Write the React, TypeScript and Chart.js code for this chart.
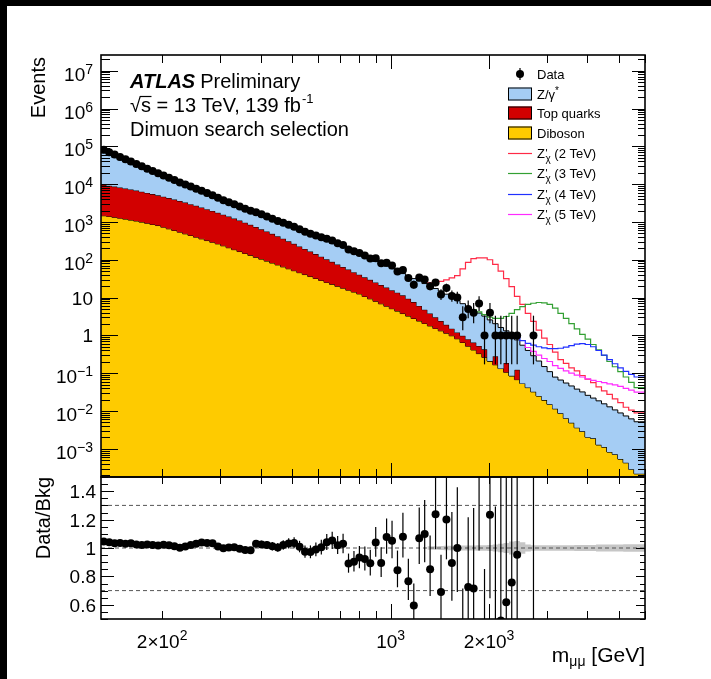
import { useEffect, useRef } from "react";
import { Chart, registerables } from "chart.js";

Chart.register(...registerables);

const W = 711;
const H = 679;
const FONT = '"Liberation Sans", Arial, Helvetica, sans-serif';

// ---------------- axes / binning ----------------
const M_MIN = 130;
const M_MAX = 6000;
const N_BINS = 100;
const Y_MIN = 1.8e-4;
const Y_MAX = 2.6e7;
const R_MIN = 0.5;
const R_MAX = 1.5;

const X_TICK_VALUES = [200, 300, 400, 500, 600, 700, 800, 900, 1000, 2000, 3000, 4000, 5000, 6000];
const X_LONG_TICKS = [1000, 2000];
const X_TICK_LABELS = [
  { value: 200, base: "2\u00d710", exp: "2" },
  { value: 1000, base: "10", exp: "3" },
  { value: 2000, base: "2\u00d710", exp: "3" },
];
const Y_TICK_LABELS = [
  { value: 1e7, base: "10", exp: "7" },
  { value: 1e6, base: "10", exp: "6" },
  { value: 1e5, base: "10", exp: "5" },
  { value: 1e4, base: "10", exp: "4" },
  { value: 1e3, base: "10", exp: "3" },
  { value: 1e2, base: "10", exp: "2" },
  { value: 10, base: "10", exp: "" },
  { value: 1, base: "1", exp: "" },
  { value: 0.1, base: "10", exp: "\u22121" },
  { value: 0.01, base: "10", exp: "\u22122" },
  { value: 0.001, base: "10", exp: "\u22123" },
];
const R_TICK_LABELS = [
  { value: 0.6, text: "0.6" },
  { value: 0.8, text: "0.8" },
  { value: 1.0, text: "1" },
  { value: 1.2, text: "1.2" },
  { value: 1.4, text: "1.4" },
];
const R_REF_LINES = [0.7, 1.0, 1.3];

// ---------------- data (per bin, 100 log-uniform bins 130-6000 GeV) ----------------
// stacked tops: diboson, diboson+top quarks, diboson+top+Z/gamma*
const STACK_DIBOSON = [
  1510, 1460, 1400, 1330, 1260, 1190, 1120, 1060, 991, 925,
  859, 804, 728, 658, 594, 537, 485, 439, 396, 357,
  322, 291, 263, 234, 208, 185, 165, 147, 131, 116,
  104, 92.3, 82.0, 73.1, 64.9, 57.8, 51.4, 45.6, 40.6, 36.0,
  32.0, 28.4, 25.2, 22.4, 19.9, 17.7, 15.7, 14.0, 12.5, 10.7,
  9.27, 7.98, 6.85, 5.92, 5.08, 4.39, 3.78, 3.24, 2.80, 2.40,
  2.07, 1.78, 1.53, 1.32, 1.14, 0.977, 0.815, 0.649, 0.518, 0.412,
  0.330, 0.263, 0.209, 0.167, 0.133, 0.106, 0.0851, 0.0676, 0.0537, 0.0417,
  0.0324, 0.0251, 0.0195, 0.0151, 0.0115, 0.00871, 0.00646, 0.0049, 0.00363, 0.0029,
  0.00204, 0.0019, 0.00128, 0.00112, 0.00083, 0.00072, 0.00054, 0.00043, 0.00029, 0.00022,
];
const STACK_DIBOSON_TOP = [
  10000, 9550, 9080, 8610, 8150, 7670, 7210, 6760, 6310, 5870,
  5450, 5050, 4660, 4280, 3920, 3580, 3270, 2960, 2690, 2420,
  2180, 1960, 1750, 1560, 1390, 1230, 1090, 957, 841, 735,
  641, 558, 484, 419, 361, 308, 264, 225, 193, 165,
  141, 121, 103, 88.1, 75.3, 64.4, 55.1, 47.1, 40.3, 34.4,
  29.4, 25.2, 21.5, 18.4, 15.7, 13.5, 11.5, 9.33, 7.59, 6.03,
  4.79, 3.80, 3.02, 2.40, 1.91, 1.51, 1.20, 0.977, 0.794, 0.646,
  0.525, 0.427, 0.209, 0.282, 0.133, 0.186, 0.0851, 0.123, 0.0537, 0.0417,
  0.0324, 0.0251, 0.0195, 0.0151, 0.0115, 0.00871, 0.00646, 0.0049, 0.00363, 0.0029,
  0.00204, 0.0019, 0.00128, 0.00112, 0.00083, 0.00072, 0.00054, 0.00043, 0.00029, 0.00022,
];
const STACK_TOTAL = [
  77600, 67300, 58500, 50800, 44100, 38400, 33300, 28900, 25100, 21800,
  19000, 16600, 14500, 12700, 11100, 9660, 8450, 7380, 6440, 5640,
  4920, 4310, 3770, 3320, 2920, 2570, 2270, 2000, 1760, 1550,
  1360, 1200, 1060, 931, 818, 724, 640, 565, 500, 442,
  391, 346, 305, 270, 238, 211, 187, 163, 141, 121,
  105, 90.6, 78.0, 67.5, 58.1, 50.0, 43.1, 37.0, 31.8, 27.3,
  23.5, 20.2, 17.4, 15.0, 12.3, 10.0, 8.3, 6.9, 5.6, 4.5,
  3.9, 3.24, 2.57, 2.04, 1.62, 1.32, 1.05, 0.76, 0.55, 0.40,
  0.29, 0.21, 0.15, 0.11, 0.079, 0.066, 0.055, 0.046, 0.038, 0.032,
  0.026, 0.022, 0.0186, 0.0155, 0.0129, 0.0107, 0.0089, 0.0074, 0.0062, 0.0052,
];
const DATA = [
  81100, 70000, 60490, 52580, 45420, 39710, 34130, 29510, 25700, 22260,
  19340, 16970, 14790, 12850, 11120, 9757, 8627, 7601, 6685, 5837,
  5087, 4353, 3762, 3330, 2935, 2557, 2238, 1968, 1813, 1589,
  1389, 1214, 1064, 950, 844, 750, 646, 550, 486, 437,
  393, 360, 321, 275, 245, 188, 169, 152, 130, 108,
  109, 81, 84, 71, 49, 54, 33, 22, 34, 30,
  20, 25, 12, 18, 11, 10, 3, 5, 4, 7,
  1, 4, 1, 1, 1, 1, 1, 0, 0, 1,
  0, 0, 0, 0, 0, 0, 0, 0, 0, 0,
  0, 0, 0, 0, 0, 0, 0, 0, 0, 0,
];
// signal + background lines, starting at the given bin
const ZPRIME_2TEV_FROM = 60;
const ZPRIME_2TEV = [
  24.0, 24.5, 25.1, 26.9, 29.5, 33.1, 38.0, 57.5, 85.1, 107,
  112, 112, 100, 75.9, 50.1, 31.6, 19.5, 10.7, 6.61, 3.80,
  2.34, 1.38, 0.851, 0.575, 0.363, 0.229, 0.182, 0.138, 0.115, 0.0871,
  0.0692, 0.0562, 0.0437, 0.0339, 0.0275, 0.0209, 0.0166, 0.0126, 0.0105, 0.0089,
];
const ZPRIME_3TEV_FROM = 69;
const ZPRIME_3TEV = [
  5.01, 4.17, 3.55, 3.02, 2.82, 2.82, 3.16, 3.80, 4.79, 5.75,
  6.61, 7.08, 7.41, 7.24, 6.61, 5.25, 3.80, 2.82, 2.04, 1.48,
  1.07, 0.794, 0.575, 0.417, 0.295, 0.204, 0.148, 0.110, 0.0794, 0.0575,
  0.0417,
];
const ZPRIME_4TEV_FROM = 76;
const ZPRIME_4TEV = [
  1.07, 0.871, 0.724, 0.617, 0.550, 0.501, 0.468, 0.447, 0.447, 0.457,
  0.490, 0.537, 0.589, 0.603, 0.575, 0.501, 0.398, 0.302, 0.229, 0.178,
  0.138, 0.112, 0.0933, 0.0794,
];
const ZPRIME_5TEV_FROM = 78;
const ZPRIME_5TEV = [
  0.603, 0.479, 0.380, 0.302, 0.245, 0.204, 0.158, 0.135, 0.115, 0.100,
  0.0891, 0.0794, 0.0708, 0.0646, 0.0603, 0.0562, 0.0525, 0.049, 0.0447, 0.0398,
  0.0355, 0.0316,
];
// relative background uncertainty (ratio band)
const BKG_UNC_FROM = 60;
const BKG_UNC = [
  0.012, 0.012, 0.013, 0.014, 0.015, 0.015, 0.016, 0.017, 0.018, 0.018,
  0.02, 0.02, 0.022, 0.025, 0.03, 0.035, 0.045, 0.05, 0.04, 0.025,
  0.02, 0.02, 0.02, 0.02, 0.02, 0.02, 0.02, 0.02, 0.022, 0.022,
  0.022, 0.022, 0.024, 0.024, 0.024, 0.025, 0.025, 0.026, 0.026, 0.026,
];

// ---------------- styles ----------------
const COL_DIBOSON = "#fecb00";
const COL_TOP = "#d20000";
const COL_DY = "#a5cdf4";
const COL_Z2 = "#ff2a46";
const COL_Z3 = "#33a033";
const COL_Z4 = "#2030ff";
const COL_Z5 = "#ff2bff";
const MARKER_R = 4.0;

const PLOT_LEFT = 101;
const PLOT_RIGHT = 645;
const TOP_Y = 55;
const SPLIT_Y = 477;
const BOTTOM_Y = 619;

// ---------------- helpers ----------------
const edges: number[] = [];
for (let i = 0; i <= N_BINS; i++) edges.push(M_MIN * Math.pow(M_MAX / M_MIN, i / N_BINS));
const centers = edges.slice(0, N_BINS).map((e, i) => Math.sqrt(e * edges[i + 1]));

function histPoints(values: number[], from = 0) {
  const pts = values.map((v, k) => ({ x: edges[from + k], y: v }));
  pts.push({ x: edges[from + values.length], y: values[values.length - 1] });
  return pts;
}

function poissonInterval(n: number): [number, number] {
  const lo = n * Math.pow(1 - 1 / (9 * n) - 1 / (3 * Math.sqrt(n)), 3);
  const hi = n + Math.sqrt(n + 0.75) + 1;
  return [lo, hi];
}

type Seg = { t: string; size: number; dy?: number; style?: string; stack?: boolean; dx?: number };

function setFont(ctx: any, s: Seg) {
  ctx.font = `${s.style ?? ""} ${s.size}px ${FONT}`.trim();
}

function layoutSegs(ctx: any, segs: Seg[]) {
  let x = 0;
  let prevStart = 0;
  let prevW = 0;
  const pos: number[] = [];
  for (const s of segs) {
    setFont(ctx, s);
    const w = ctx.measureText(s.t).width;
    if (s.stack) {
      pos.push(prevStart);
      prevW = Math.max(prevW, w);
      x = prevStart + prevW;
    } else {
      x += s.dx ?? 0;
      pos.push(x);
      prevStart = x;
      prevW = w;
      x += w;
    }
  }
  return { pos, total: x };
}

function drawSegs(ctx: any, segs: Seg[], x0: number, baseline: number, align = "left") {
  const { pos, total } = layoutSegs(ctx, segs);
  const start = align === "left" ? x0 : align === "right" ? x0 - total : x0 - total / 2;
  ctx.textAlign = "left";
  ctx.textBaseline = "alphabetic";
  segs.forEach((s, i) => {
    setFont(ctx, s);
    ctx.fillText(s.t, start + pos[i], baseline + (s.dy ?? 0));
  });
}

function seg(ctx: any, x1: number, y1: number, x2: number, y2: number) {
  ctx.beginPath();
  ctx.moveTo(x1, y1);
  ctx.lineTo(x2, y2);
  ctx.stroke();
}

function drawXTicks(ctx: any, x: any, yEdge: number, dir: number, shortLen: number, longLen: number) {
  for (const v of X_TICK_VALUES) {
    const px = Math.round(x.getPixelForValue(v)) + 0.5;
    const len = X_LONG_TICKS.includes(v) ? longLen : shortLen;
    seg(ctx, px, yEdge, px, yEdge + dir * len);
  }
}

function clipArea(ctx: any, a: any) {
  ctx.beginPath();
  ctx.rect(a.left, a.top, a.right - a.left, a.bottom - a.top);
  ctx.clip();
}

const zpSegs = (m: string): Seg[] => [
  { t: "Z", size: 13 },
  { t: "'", size: 11, dy: -1, dx: 0.5 },
  { t: "\u03c7", size: 10, dy: 4, stack: true },
  { t: ` (${m} TeV)`, size: 13 },
];

const LEGEND_ROWS: any[] = [
  { kind: "data", y: 74, segs: [{ t: "Data", size: 13 }] },
  { kind: "box", y: 94, color: COL_DY, segs: [{ t: "Z/\u03b3", size: 13 }, { t: "*", size: 10, dy: -5 }] },
  { kind: "box", y: 113, color: COL_TOP, segs: [{ t: "Top quarks", size: 13 }] },
  { kind: "box", y: 133, color: COL_DIBOSON, segs: [{ t: "Diboson", size: 13 }] },
  { kind: "line", y: 153, color: COL_Z2, segs: zpSegs("2") },
  { kind: "line", y: 173, color: COL_Z3, segs: zpSegs("3") },
  { kind: "line", y: 194, color: COL_Z4, segs: zpSegs("4") },
  { kind: "line", y: 214, color: COL_Z5, segs: zpSegs("5") },
];

// ---------------- plugins ----------------
const topDecor = {
  id: "topDecor",
  beforeDraw(chart: any) {
    const ctx = chart.ctx;
    ctx.save();
    ctx.fillStyle = "#fff";
    ctx.fillRect(0, 0, W, H);
    ctx.fillStyle = "#000";
    ctx.fillRect(0, 0, W, 6);
    ctx.fillRect(0, 0, 7, H);
    ctx.restore();
  },
  afterDatasetsDraw(chart: any) {
    const { ctx, chartArea: a, scales } = chart;
    ctx.save();
    clipArea(ctx, a);
    ctx.strokeStyle = "#000";
    ctx.lineWidth = 1.2;
    DATA.forEach((n, i) => {
      if (n <= 0) return;
      const [lo, hi] = poissonInterval(n);
      const px = scales.x.getPixelForValue(centers[i]);
      const y1 = scales.y.getPixelForValue(Math.max(lo, 1e-9));
      const y2 = scales.y.getPixelForValue(hi);
      seg(ctx, px, y1, px, y2);
    });
    ctx.restore();
  },
  afterDraw(chart: any) {
    const { ctx, chartArea: a, scales } = chart;
    const x = scales.x;
    const y = scales.y;
    ctx.save();
    ctx.strokeStyle = "#000";
    ctx.fillStyle = "#000";
    ctx.lineWidth = 1;
    drawXTicks(ctx, x, a.bottom, -1, 8, 14);
    drawXTicks(ctx, x, a.top, 1, 8, 14);
    for (let e = -4; e <= 7; e++) {
      for (let d = 1; d <= 9; d++) {
        const v = d * Math.pow(10, e);
        if (v < Y_MIN || v > Y_MAX) continue;
        const py = Math.round(y.getPixelForValue(v)) + 0.5;
        const major = d === 1;
        seg(ctx, a.left, py, a.left + (major ? 17 : 9), py);
        seg(ctx, a.right, py, a.right - (major ? 13 : 7), py);
      }
    }
    ctx.lineWidth = 1.6;
    ctx.strokeRect(a.left, a.top, a.right - a.left, a.bottom - a.top);

    // y tick labels
    for (const lab of Y_TICK_LABELS) {
      const py = y.getPixelForValue(lab.value);
      if (lab.exp) drawSegs(ctx, [{ t: lab.base, size: 19 }, { t: lab.exp, size: 14, dy: -7 }], 93, py + 10, "right");
      else drawSegs(ctx, [{ t: lab.base, size: 19 }], 93, py + 7, "right");
    }

    // y title
    ctx.save();
    ctx.translate(45, 57);
    ctx.rotate(-Math.PI / 2);
    ctx.font = `20px ${FONT}`;
    ctx.textAlign = "right";
    ctx.textBaseline = "alphabetic";
    ctx.fillText("Events", 0, 0);
    ctx.restore();

    // ATLAS label
    ctx.textAlign = "left";
    ctx.textBaseline = "alphabetic";
    ctx.font = `italic bold 20px ${FONT}`;
    ctx.fillText("ATLAS", 130, 88);
    const wA = ctx.measureText("ATLAS").width;
    ctx.font = `20px ${FONT}`;
    ctx.fillText("Preliminary", 130 + wA + 5, 88);
    drawSegs(ctx, [
      { t: "\u221a", size: 20 },
      { t: "s = 13 TeV, 139 fb", size: 20 },
      { t: "-1", size: 13, dy: -9, dx: 1 },
    ], 130, 112, "left");
    ctx.font = `20px ${FONT}`;
    const wr = ctx.measureText("\u221a").width;
    const ws = ctx.measureText("s").width;
    ctx.lineWidth = 1.2;
    seg(ctx, 130 + wr - 1, 112 - 15.5, 130 + wr + ws + 0.5, 112 - 15.5);
    ctx.font = `20px ${FONT}`;
    ctx.fillText("Dimuon search selection", 130, 136);

    // legend
    for (const row of LEGEND_ROWS) {
      const cy = row.y;
      if (row.kind === "data") {
        ctx.lineWidth = 1.2;
        seg(ctx, 520, cy - 6, 520, cy + 6);
        ctx.beginPath();
        ctx.arc(520, cy, MARKER_R, 0, Math.PI * 2);
        ctx.fill();
      } else if (row.kind === "box") {
        ctx.fillStyle = row.color;
        ctx.fillRect(508, cy - 6.5, 24, 13);
        ctx.lineWidth = 1;
        ctx.strokeStyle = "#000";
        ctx.strokeRect(508.5, cy - 6, 23, 12);
      } else {
        ctx.strokeStyle = row.color;
        ctx.lineWidth = 1.2;
        seg(ctx, 508, cy + 0.5, 532, cy + 0.5);
        ctx.strokeStyle = "#000";
      }
      ctx.fillStyle = "#000";
      drawSegs(ctx, row.segs, 537, cy + 5, "left");
    }
    ctx.restore();
  },
};

const ratioDecor = {
  id: "ratioDecor",
  afterDatasetsDraw(chart: any) {
    const { ctx, chartArea: a, scales } = chart;
    ctx.save();
    clipArea(ctx, a);
    ctx.strokeStyle = "#000";
    ctx.lineWidth = 1.2;
    DATA.forEach((n, i) => {
      if (n <= 0) return;
      const [lo, hi] = poissonInterval(n);
      const b = STACK_TOTAL[i];
      const px = scales.x.getPixelForValue(centers[i]);
      seg(ctx, px, scales.y.getPixelForValue(lo / b), px, scales.y.getPixelForValue(hi / b));
    });
    ctx.restore();
  },
  afterDraw(chart: any) {
    const { ctx, chartArea: a, scales } = chart;
    const x = scales.x;
    const y = scales.y;
    ctx.save();
    ctx.strokeStyle = "#000";
    ctx.fillStyle = "#000";
    ctx.lineWidth = 1;
    drawXTicks(ctx, x, a.bottom, -1, 8, 15);
    drawXTicks(ctx, x, a.top, 1, 7, 7);
    for (let k = 0; k <= 20; k++) {
      const v = R_MIN + k * 0.05;
      const major = R_TICK_LABELS.some((l) => Math.abs(l.value - v) < 1e-6);
      const py = Math.round(y.getPixelForValue(v)) + 0.5;
      seg(ctx, a.left, py, a.left + (major ? 13 : 7), py);
      seg(ctx, a.right, py, a.right - (major ? 9 : 5), py);
    }
    ctx.lineWidth = 1.6;
    ctx.strokeRect(a.left, a.top, a.right - a.left, a.bottom - a.top);

    for (const lab of R_TICK_LABELS) {
      const py = y.getPixelForValue(lab.value);
      drawSegs(ctx, [{ t: lab.text, size: 19 }], 96, py + 7, "right");
    }
    for (const lab of X_TICK_LABELS) {
      const px = x.getPixelForValue(lab.value);
      drawSegs(ctx, [{ t: lab.base, size: 19 }, { t: lab.exp, size: 14, dy: -8 }], px, 648, "center");
    }
    drawSegs(ctx, [
      { t: "m", size: 21 },
      { t: "\u03bc\u03bc", size: 14, dy: 4 },
      { t: " [GeV]", size: 21 },
    ], 645, 662, "right");

    ctx.save();
    ctx.translate(50, 477);
    ctx.rotate(-Math.PI / 2);
    ctx.font = `20px ${FONT}`;
    ctx.textAlign = "right";
    ctx.textBaseline = "alphabetic";
    ctx.fillText("Data/Bkg", 0, 0);
    ctx.restore();
    ctx.restore();
  },
};

const baseOptions = (padTop: number, padBottom: number, yScale: any) => ({
  animation: false,
  responsive: false,
  events: [],
  layout: { padding: { left: PLOT_LEFT, right: W - PLOT_RIGHT, top: padTop, bottom: padBottom } },
  plugins: { legend: { display: false }, tooltip: { enabled: false }, title: { display: false } },
  scales: {
    x: { type: "logarithmic", min: M_MIN, max: M_MAX, display: false },
    y: yScale,
  },
  elements: { line: { tension: 0 } },
});

function topConfig(): any {
  const signals = [
    { v: ZPRIME_2TEV, from: ZPRIME_2TEV_FROM, c: COL_Z2 },
    { v: ZPRIME_3TEV, from: ZPRIME_3TEV_FROM, c: COL_Z3 },
    { v: ZPRIME_4TEV, from: ZPRIME_4TEV_FROM, c: COL_Z4 },
    { v: ZPRIME_5TEV, from: ZPRIME_5TEV_FROM, c: COL_Z5 },
  ];
  return {
    type: "line",
    data: {
      datasets: [
        { data: histPoints(STACK_DIBOSON), stepped: "after", fill: "start", backgroundColor: COL_DIBOSON, borderColor: "#000", borderWidth: 1, pointRadius: 0, order: 10 },
        { data: histPoints(STACK_DIBOSON_TOP), stepped: "after", fill: "-1", backgroundColor: COL_TOP, borderColor: "#000", borderWidth: 1, pointRadius: 0, order: 9 },
        { data: histPoints(STACK_TOTAL), stepped: "after", fill: "-1", backgroundColor: COL_DY, borderColor: "#000", borderWidth: 1, pointRadius: 0, order: 8 },
        ...signals.map((s, k) => ({
          data: histPoints(s.v, s.from), stepped: "after", fill: false, borderColor: s.c, borderWidth: 1.2, pointRadius: 0, order: 7 - k,
        })),
        {
          data: DATA.map((n, i) => ({ x: centers[i], y: n > 0 ? n : null })),
          showLine: false, pointRadius: MARKER_R, pointBackgroundColor: "#000", pointBorderColor: "#000", pointBorderWidth: 0, order: 1,
        },
      ],
    },
    options: baseOptions(TOP_Y, H - SPLIT_Y, { type: "logarithmic", min: Y_MIN, max: Y_MAX, display: false }),
    plugins: [topDecor],
  };
}

function ratioConfig(): any {
  return {
    type: "line",
    data: {
      datasets: [
        { data: histPoints(BKG_UNC.map((u) => 1 + u), BKG_UNC_FROM), stepped: "after", fill: "+1", backgroundColor: "rgba(160,160,160,0.6)", borderColor: "rgba(0,0,0,0)", borderWidth: 1, pointRadius: 0, order: 10 },
        { data: histPoints(BKG_UNC.map((u) => 1 - u), BKG_UNC_FROM), stepped: "after", fill: false, borderColor: "rgba(0,0,0,0)", borderWidth: 1, pointRadius: 0, order: 9 },
        ...R_REF_LINES.map((v) => ({
          data: [{ x: M_MIN, y: v }, { x: M_MAX, y: v }], fill: false, borderColor: "#555", borderWidth: 1, borderDash: [4, 3], pointRadius: 0, order: 5,
        })),
        {
          data: DATA.map((n, i) => ({ x: centers[i], y: n > 0 ? n / STACK_TOTAL[i] : null })),
          showLine: false, pointRadius: MARKER_R, pointBackgroundColor: "#000", pointBorderColor: "#000", pointBorderWidth: 0, order: 1,
        },
      ],
    },
    options: baseOptions(SPLIT_Y, H - BOTTOM_Y, { type: "linear", min: R_MIN, max: R_MAX, display: false }),
    plugins: [ratioDecor],
  };
}

export default function App() {
  const topRef = useRef<HTMLCanvasElement>(null);
  const ratioRef = useRef<HTMLCanvasElement>(null);
  useEffect(() => {
    const c1 = new Chart(topRef.current as HTMLCanvasElement, topConfig());
    const c2 = new Chart(ratioRef.current as HTMLCanvasElement, ratioConfig());
    return () => {
      c1.destroy();
      c2.destroy();
    };
  }, []);
  return (
    <div style={{ position: "fixed", left: 0, top: 0, width: W, height: H, background: "#fff" }}>
      <canvas ref={topRef} width={W} height={H} style={{ position: "absolute", left: 0, top: 0 }} />
      <canvas ref={ratioRef} width={W} height={H} style={{ position: "absolute", left: 0, top: 0 }} />
    </div>
  );
}
